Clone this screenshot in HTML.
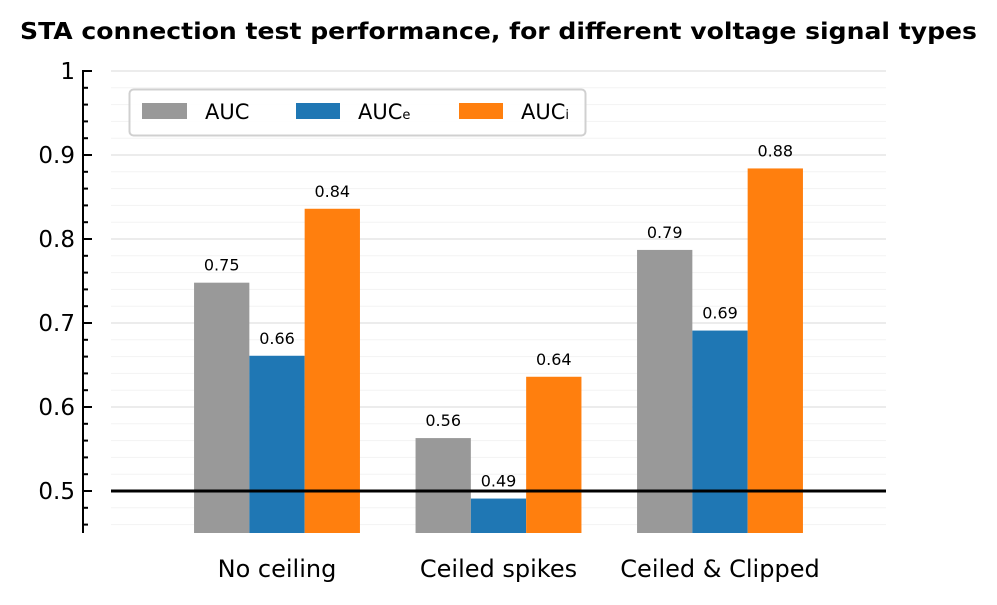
<!DOCTYPE html>
<html><head><meta charset="utf-8"><style>
body{margin:0;background:#fff;width:997px;height:601px;overflow:hidden;font-family:"DejaVu Sans","Liberation Sans",sans-serif}
</style></head><body>
<svg id="chart" width="997" height="601" xmlns="http://www.w3.org/2000/svg">
<text x="20" y="39" textLength="957" lengthAdjust="spacingAndGlyphs" font-size="23" font-weight="bold">STA connection test performance, for different voltage signal types</text>
<g id="grid"></g><g id="bars"></g><g id="axis"></g>
<line x1="111" x2="886" y1="491" y2="491" stroke="#000" stroke-width="3"/>
<g>
<rect x="129.5" y="89.5" width="456" height="46" rx="4" fill="#fff" fill-opacity="0.85" stroke="#d0d0d0" stroke-width="2"/>
<rect x="142" y="103" width="45" height="16" fill="#999999"/>
<text x="205" y="119" font-size="21">AUC</text>
<rect x="296" y="103" width="44" height="16" fill="#1f77b4"/>
<text x="358" y="119" font-size="21">AUC<tspan font-size="13">e</tspan></text>
<rect x="459" y="103" width="44" height="16" fill="#ff7f0e"/>
<text x="521" y="119" font-size="21">AUC<tspan font-size="13">i</tspan></text>
</g>
</svg>
<script>
const categories=["No ceiling","Ceiled spikes","Ceiled & Clipped"];
const aucValues=[0.748,0.563,0.787];
const auceValues=[0.661,0.491,0.691];
const auciValues=[0.836,0.636,0.884];
const yTicks=[0.5,0.6,0.7,0.8,0.9,1];
const yTickLabels=["0.5","0.6","0.7","0.8","0.9","1"];
const series=[{v:aucValues,c:"#999999",n:"auc"},{v:auceValues,c:"#1f77b4",n:"auce"},{v:auciValues,c:"#ff7f0e",n:"auci"}];
const NS="http://www.w3.org/2000/svg";
const y0=533,yMin=0.45,yMax=1.0,yTop=71;
const y=v=>y0-(v-yMin)/(yMax-yMin)*(y0-yTop);
const x=i=>277+i*221.5;
const bw=55.3;
function mk(t,a,p){const e=document.createElementNS(NS,t);for(const k in a)e.setAttribute(k,a[k]);p.appendChild(e);return e;}
const grid=document.getElementById('grid'),bars=document.getElementById('bars'),axis=document.getElementById('axis');
for(let k=0;k<=27;k++){const v=0.46+k*0.02;if(v>1.0001)break;
 const major=Math.abs((v*10)-Math.round(v*10))<1e-6;
 const l=mk('line',{x1:111,x2:886,y1:y(v),y2:y(v),stroke:major?'#e6e6e6':'#f3f3f3','stroke-width':major?1.5:1},grid);
 
 
 const t=mk('line',{x1:83,x2:major?92:88,y1:y(v),y2:y(v),stroke:'#000','stroke-width':2},axis);
 
 
}
const sp=mk('line',{x1:83,x2:83,y1:y0,y2:yTop-1,stroke:'#000','stroke-width':2},axis);


yTicks.forEach((v,i)=>{const t=mk('text',{x:75,y:y(v)+8,'text-anchor':'end','font-size':23},axis);t.textContent=yTickLabels[i];
 
 });
categories.forEach((c,i)=>{
 series.forEach((s,j)=>{const v=s.v[i];const bx=x(i)+(j-1.5)*bw;
  const r=mk('rect',{x:bx,y:y(v),width:bw,height:y0-y(v),fill:s.c},bars);
  
  
  const t=mk('text',{x:bx+bw/2,y:y(v)-12,'text-anchor':'middle','font-size':16},bars);t.textContent=v.toFixed(2);
  
  
 });
 const t=mk('text',{x:x(i),y:577,'text-anchor':'middle','font-size':24},axis);t.textContent=c;
 
 
});
</script>
</body></html>
